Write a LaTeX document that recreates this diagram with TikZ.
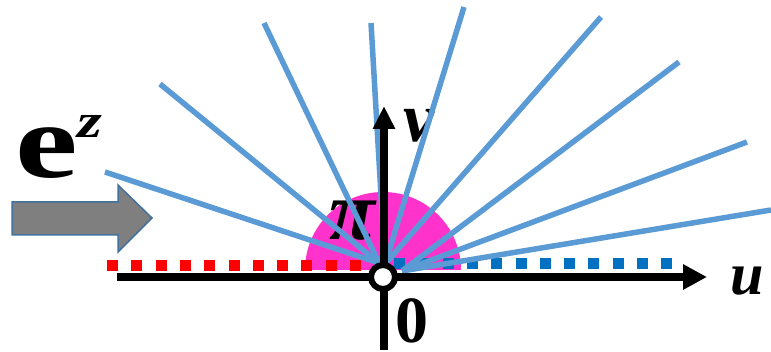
\documentclass[tikz,border=0pt]{standalone}
\usepackage{fontspec}
\setmainfont{Liberation Serif}
\usetikzlibrary{arrows.meta}
\definecolor{rayBlue}{HTML}{5B9BD5}
\definecolor{dotBlue}{HTML}{0070C0}
\definecolor{dotRed}{HTML}{FF0000}
\definecolor{sectorPink}{HTML}{FF33CC}
\definecolor{arrowGray}{HTML}{7F7F7F}
\definecolor{arrowEdge}{HTML}{41719C}

\begin{document}
\begin{tikzpicture}[x=1pt, y=-1pt,
    rayLine/.style={draw=rayBlue, line width=5.5pt},
    axisLine/.style={draw=black, line width=7.5pt},
    dotLine/.style={line width=11pt, dash pattern=on 11pt off 13.3pt},
    italLabel/.style={inner sep=0pt, anchor=base west, font=\bfseries\itshape},
    originDot/.style={circle, draw=black, fill=white, line width=6pt, minimum size=24pt, inner sep=0pt}
]
    \useasboundingbox (0,0) rectangle (771,352);

    \fill[sectorPink] (305,270) arc[start angle=180, end angle=360, radius=78] -- cycle;

    \node[italLabel] (piLabel) at (329,240) {\fontsize{84}{84}\selectfont π};

    \coordinate (redStart) at (107,266);
    \coordinate (redEnd) at (372,266);
    \coordinate (blueStart) at (394,264);
    \coordinate (blueEnd) at (674,264);
    \draw[dotLine, draw=dotRed] (redStart) -- (redEnd);
    \draw[dotLine, draw=dotBlue] (blueStart) -- (blueEnd);

    \node[italLabel] (vLabel) at (403,142) {\fontsize{70}{70}\selectfont v};

    \coordinate (hubL) at (379,263);
    \coordinate (hubM) at (385,264);
    \coordinate (hubR) at (402,271);
    \foreach \ex/\ey/\hub in {105/172/hubL, 160/84/hubL, 264/23/hubL, 371/23/hubM, 464/7/hubM, 601/17/hubM, 679/62/hubR, 747/142/hubR, 771/210/hubR}{
        \coordinate (ray-\ex) at (\ex,\ey);
        \draw[rayLine] (\hub) -- (ray-\ex);
    }

    \coordinate (uStart) at (117,277);
    \coordinate (uEnd) at (707,277);
    \coordinate (vStart) at (384,350);
    \coordinate (vEnd) at (384,106);
    \draw[axisLine, -{Triangle[length=24pt, width=24pt]}] (uStart) -- (uEnd);
    \draw[axisLine, line width=8pt, -{Triangle[length=23pt, width=21pt]}] (vStart) -- (vEnd);

    \node[originDot] (origin) at (383,277) {};

    \node[italLabel] (uLabel) at (730,295) {\fontsize{60}{60}\selectfont u};
    \node[inner sep=0pt, anchor=base west] (zeroLabel) at (395,343) {\fontsize{66}{66}\selectfont\bfseries 0};

    \node[inner sep=0pt, anchor=base west] (expLabel) at (15,178)
        {\scalebox{1.33}[1]{\fontsize{106}{106}\selectfont\bfseries e\raisebox{40pt}{\fontsize{48}{48}\selectfont\itshape z}}};

    \draw[fill=arrowGray, draw=arrowEdge, line width=1.5pt]
        (12,202) -- (118,202) -- (118,185) -- (152,218) -- (118,252) -- (118,235) -- (12,235) -- cycle;
\end{tikzpicture}
\end{document}
